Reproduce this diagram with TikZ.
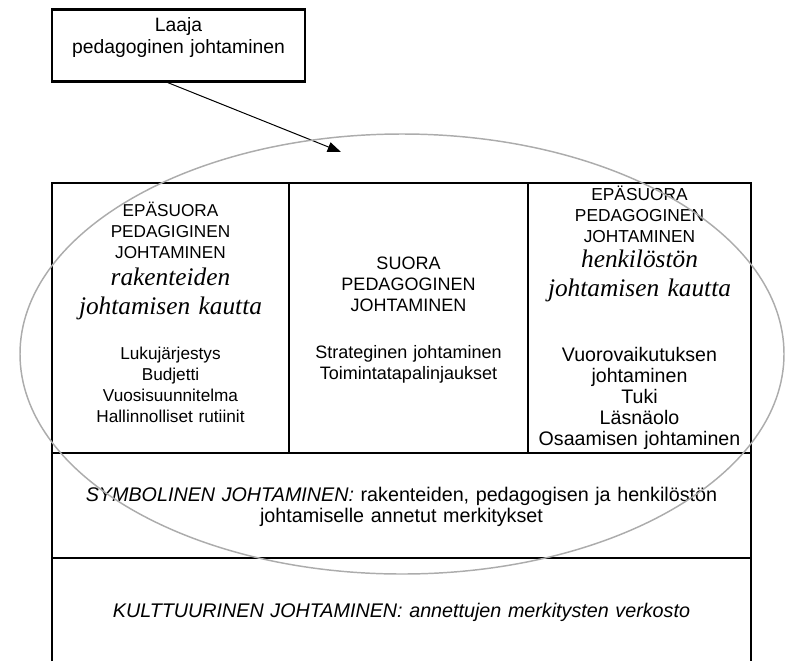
\documentclass[tikz,border=0pt]{standalone}
\usepackage{fontspec}
\setmainfont{Liberation Sans}
\newfontfamily\serifit{Liberation Serif}
\usetikzlibrary{arrows.meta}

\tikzset{
  cell/.style={align=center, text width=172pt, inner sep=0pt, anchor=base,
    font=\fontsize{#1}{15.9}\selectfont},
  cell/.default=13.5,
  via/.style={cell, font=\serifit\itshape\fontsize{19}{21.75}\selectfont},
  wide/.style={cell, text width=540pt, font=\fontsize{14.8}{16.4}\selectfont},
  grid/.style={line width=1.5pt},
  ring/.style={draw=gray!65, line width=1.1pt},
  pointer/.style={-{Triangle[length=10pt,width=7.5pt]}, line width=0.75pt},
}

\begin{document}
\begin{tikzpicture}[x=0.75pt, y=-0.75pt]
  \useasboundingbox (0,0) rectangle (788,661);
  % top box
  \node[draw, line width=1.7pt, minimum width=190pt, minimum height=54pt, inner sep=0pt]
    (laaja) at (178.5,45.5) {};
  \node[cell, font=\fontsize{14.5}{16.5}\selectfont] (laajatxt) at (178.5,31) {Laaja\\pedagoginen johtaminen};
  \coordinate (tip) at (341,152);
  \draw[pointer] (laaja.254) -- (tip);

  % table
  \draw[grid] (52,661) -- (52,183) -- (751,183) -- (751,661);
  \draw[grid] (52,453) -- (751,453);
  \draw[grid] (52,558) -- (751,558);
  \draw[grid] (289,183) -- (289,453);
  \draw[grid] (528,183) -- (528,453);

  % column 1
  \node[cell=12.9] (ind1head) at (170.5,216) {EPÄSUORA\\PEDAGIGINEN\\JOHTAMINEN};
  \node[via]       (ind1via)  at (170.5,285) {rakenteiden\\johtamisen kautta};
  \node[cell=12.9] (ind1list) at (170.5,359) {Lukujärjestys\\Budjetti\\Vuosisuunnitelma\\Hallinnolliset rutiinit};
  % column 2
  \node[cell] (dirhead) at (408.5,269) {SUORA\\PEDAGOGINEN\\JOHTAMINEN};
  \node[cell] (dirlist) at (408.5,358) {Strateginen johtaminen\\Toimintatapalinjaukset};
  % column 3
  \node[cell=13]   (ind2head) at (639.5,200) {EPÄSUORA\\PEDAGOGINEN\\JOHTAMINEN};
  \node[via]       (ind2via)  at (639.5,267) {henkilöstön\\johtamisen kautta};
  \node[cell=14.7] (ind2list) at (639.5,361) {Vuorovaikutuksen\\johtaminen\\Tuki\\Läsnäolo\\Osaamisen johtaminen};

  % lower rows
  \node[wide] (symb) at (401.5,501) {\textit{SYMBOLINEN JOHTAMINEN:} rakenteiden, pedagogisen ja henkilöstön\\johtamiselle annetut merkitykset};
  \node[wide] (kult) at (401.5,617) {\textit{KULTTUURINEN JOHTAMINEN: annettujen merkitysten verkosto}};

  % the wide circle
  \draw[ring] (402,354) ellipse [x radius=382, y radius=220];
\end{tikzpicture}
\end{document}
